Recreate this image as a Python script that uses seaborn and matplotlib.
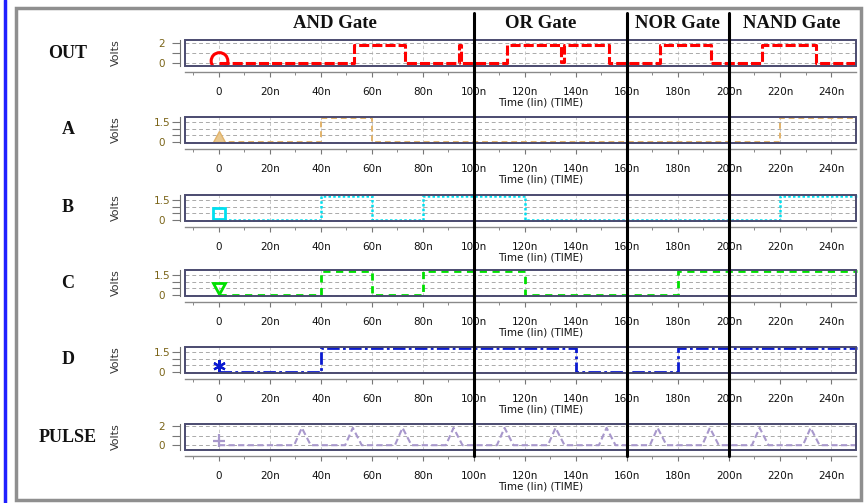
import numpy as np
import pandas as pd
import seaborn as sns
import matplotlib.pyplot as plt
from matplotlib.ticker import MultipleLocator, FuncFormatter
from matplotlib.patches import Rectangle
from matplotlib.lines import Line2D
from matplotlib.markers import MarkerStyle
from matplotlib.transforms import Affine2D

# edge times (ns) and levels (V)
out_t = [0, 53, 73, 94, 95, 113, 134, 135.5, 153, 173, 193, 213, 234, 250]
out_v = [0, 1.8, 0, 1.8, 0, 1.8, 0.1, 1.8, 0, 1.8, 0, 1.8, 0, 0]

a_t = [0, 40, 60, 220, 250]
a_v = [0, 1.8, 0, 1.8, 1.8]

b_t = [0, 40, 60, 80, 120, 220, 250]
b_v = [0, 1.8, 0, 1.8, 0, 1.8, 1.8]

c_t = [0, 40, 60, 80, 120, 180, 250]
c_v = [0, 1.8, 0, 1.8, 0, 1.8, 1.8]

d_t = [0, 40, 140, 180, 250]
d_v = [0, 1.8, 0, 1.8, 1.8]

# clock-like pulses: start of rise, peak, end of fall (ns)
pulse_rise = [29.5, 49.5, 69, 89, 109, 129, 149, 169, 189.5, 209, 229]
pulse_peak = [32.5, 52.5, 72, 92, 112, 132, 152, 172, 192.5, 212, 232]
pulse_fall = [36, 56, 75.5, 95.5, 115.5, 135.5, 155.5, 175.5, 196, 215.5, 235.5]
pulse_high = 1.8

gate_names = ["AND Gate", "OR Gate", "NOR Gate", "NAND Gate"]
gate_bounds = [100, 160, 200]

pulse_t = [0]
pulse_v = [0]
for r, p, f in zip(pulse_rise, pulse_peak, pulse_fall):
    pulse_t += [r, p, f]
    pulse_v += [0, pulse_high, 0]
pulse_t.append(250)
pulse_v.append(0)

sns.set_theme(style="white")
plt.rcParams["font.family"] = ["DejaVu Sans"]

W, H = 867, 503
fig = plt.figure(figsize=(W / 100, H / 100), dpi=100)
fig.patch.set_facecolor("white")


def lifted(m, dy):
    # marker sitting a bit above its data point, like the simulator's probe markers
    return MarkerStyle(m, transform=Affine2D().translate(0, dy))


panels = [
    dict(name="OUT", t=out_t, v=out_v, color="#ff0000", lw=2.2, ls=(0, (3.3, 1.0)),
         marker=lifted("o", 0.15), ms=12, mfc="none", mew=2.2, ylim=(-0.3, 2.3), major=2, minor=1,
         steps=True, clip=True, top=40),
    dict(name="A", t=a_t, v=a_v, color="#e2b36a", lw=1.4, ls=(0, (3.0, 2.0)),
         marker=lifted("^", 0.5), ms=8, mfc="#e8c890", mew=1.0, ylim=(-0.08, 1.88), major=1.5, minor=0.5,
         steps=True, clip=False, top=117),
    dict(name="B", t=b_t, v=b_v, color="#00e0f0", lw=1.8, ls=(0, (1.0, 0.9)),
         marker=lifted("s", 0.55), ms=8, mfc="none", mew=2.0, ylim=(-0.08, 1.88), major=1.5, minor=0.5,
         steps=True, clip=False, top=195),
    dict(name="C", t=c_t, v=c_v, color="#00e000", lw=2.0, ls=(0, (2.6, 2.0)),
         marker=lifted("v", 0.55), ms=8, mfc="none", mew=2.0, ylim=(-0.08, 1.88), major=1.5, minor=0.5,
         steps=True, clip=False, top=270),
    dict(name="D", t=d_t, v=d_v, color="#0a1ad0", lw=2.0, ls=(0, (4.5, 1.2, 1.0, 1.2)),
         marker=lifted((6, 2, 0), 0.5), ms=9, mfc="#0a1ad0", mew=1.6, ylim=(-0.08, 1.88), major=1.5, minor=0.5,
         steps=True, clip=False, top=347),
    dict(name="PULSE", t=pulse_t, v=pulse_v, color="#a898cc", lw=1.5, ls=(0, (3.0, 1.6)),
         marker=lifted("+", 0.35), ms=9, mfc="none", mew=1.6, ylim=(-0.5, 2.2), major=2, minor=1,
         steps=False, clip=False, top=424),
]

box_h = 26
axes = []
for p in panels:
    ax = fig.add_axes([185 / W, 1 - (p["top"] + box_h) / H, 671 / W, box_h / H])
    df = pd.DataFrame({"t": p["t"], "v": p["v"]})
    sns.lineplot(data=df, x="t", y="v", ax=ax, color=p["color"], linewidth=p["lw"],
                 linestyle=p["ls"], drawstyle="steps-post" if p["steps"] else "default",
                 estimator=None, sort=False, marker=p["marker"], markevery=[0],
                 markersize=p["ms"], markerfacecolor=p["mfc"],
                 markeredgecolor=p["color"], markeredgewidth=p["mew"])
    ax.lines[-1].set_clip_on(p["clip"])

    ax.set_xlim(-13.3, 249.8)
    ax.set_ylim(*p["ylim"])
    ax.xaxis.set_major_locator(MultipleLocator(20))
    ax.xaxis.set_minor_locator(MultipleLocator(10))
    ax.xaxis.set_major_formatter(FuncFormatter(lambda v, _: "0" if abs(v) < 1e-9 else f"{v:.0f}n"))
    ax.yaxis.set_major_locator(MultipleLocator(p["major"]))
    ax.yaxis.set_minor_locator(MultipleLocator(p["minor"]))
    ax.yaxis.set_major_formatter(FuncFormatter(lambda v, _: f"{v:g}"))

    for s in ["top", "right"]:
        ax.spines[s].set_visible(False)
    ax.spines["bottom"].set_position(("outward", 4.3))
    ax.spines["bottom"].set_color("#8a8a8a")
    ax.spines["bottom"].set_linewidth(1.0)
    ax.spines["left"].set_position(("outward", 3.6))
    ax.spines["left"].set_color("#707070")
    ax.spines["left"].set_linewidth(0.8)
    ax.add_patch(Rectangle((0, 0), 1, 1, transform=ax.transAxes, fill=False,
                           ec="#4b4b70", lw=1.4, zorder=5, clip_on=False))

    ax.grid(True, which="both", axis="y", color="#aaaaaa", ls=(0, (4, 3)), lw=0.7)
    ax.grid(True, which="major", axis="x", color="#c0c0c0", ls=(0, (4, 3)), lw=0.6)
    ax.tick_params(axis="x", which="major", direction="out", bottom=True, length=3.6,
                   width=0.8, color="#777777", pad=7, labelsize=7.5, labelcolor="#111111")
    ax.tick_params(axis="x", which="minor", direction="out", bottom=True, length=2.2,
                   width=0.7, color="#888888")
    ax.tick_params(axis="y", which="both", direction="out", left=True, length=5.5,
                   width=0.8, color="#777777", pad=7.5, labelsize=7.5, labelcolor="#7a6418")
    plt.setp(ax.get_yticklabels(), ha="center")

    ax.set_xlabel("Time (lin) (TIME)", fontsize=7.5, labelpad=0, color="#111111")
    ax.xaxis.set_label_coords(0.53, -1.23)
    ax.set_ylabel("")

    yc = 1 - (p["top"] + box_h / 2) / H
    fig.text(68 / W, yc, p["name"], ha="center", va="center", family="Liberation Serif",
             weight="bold", size=13, color="#111111")
    fig.text(116 / W, yc, "Volts", ha="center", va="center", rotation=90, size=8,
             color="#333333")
    axes.append(ax)

# gate titles along the top
for name, x in zip(gate_names, [335, 541, 677, 792]):
    fig.text(x / W, 1 - 24 / H, name, ha="center", va="center", family="Liberation Serif",
             weight="bold", size=13.5, color="#111111")

# black separators between gate regions
for b in gate_bounds:
    xf = axes[0].transData.transform((b, 0))[0] / (fig.dpi * fig.get_figwidth())
    fig.add_artist(Line2D([xf, xf], [1 - 13 / H, 1 - 456 / H], transform=fig.transFigure,
                          color="black", lw=2.2))

# outer frame and blue edge
fig.add_artist(Rectangle((16 / W, 1 - 500 / H), 845 / W, 492 / H, transform=fig.transFigure,
                         fill=False, ec="#8f8f8f", lw=2.5))
fig.add_artist(Line2D([5 / W, 5 / W], [0, 1], transform=fig.transFigure, color="#2020ff", lw=2.5))

fig.savefig("out.png", dpi=100)
